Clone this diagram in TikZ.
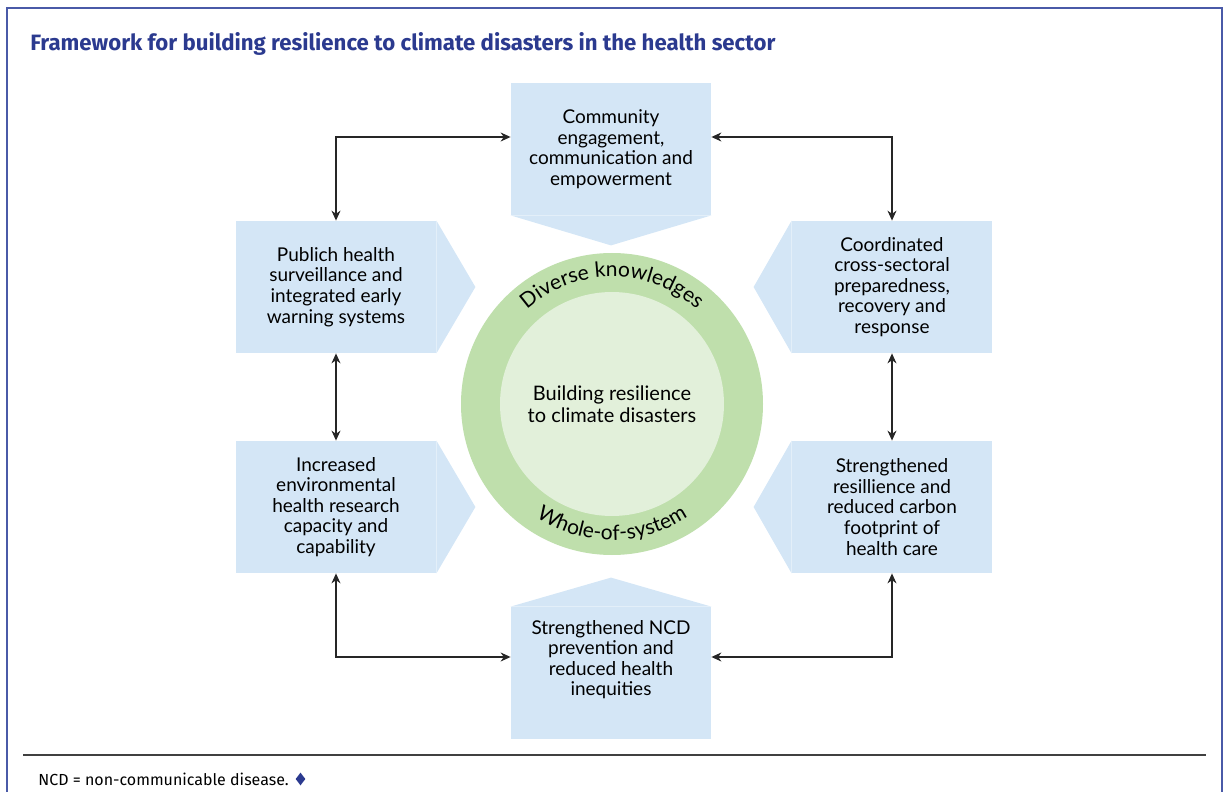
\documentclass[tikz,border=0pt]{standalone}
\usepackage{fontspec}
\setmainfont{Lato}
\newfontfamily\titlefont{Fira Sans}
\usetikzlibrary{arrows.meta,calc,positioning,shapes.geometric,decorations.text}

\definecolor{boxblue}{HTML}{D4E6F6}
\definecolor{ringgreen}{HTML}{BFDFAC}
\definecolor{coregreen}{HTML}{E2F0DA}
\definecolor{titleblue}{HTML}{2B3A8F}
\definecolor{frameblue}{HTML}{4A5AA8}

\tikzset{
    box/.style={fill=boxblue, minimum width=100pt, minimum height=66pt, inner sep=0pt,
        align=center, font=\fontsize{9.5}{10.3}\selectfont},
    link/.style={{Stealth[length=5pt,width=4.5pt]}-{Stealth[length=5pt,width=4.5pt]},
        line width=0.6pt, black!85},
    arctext/.style={decorate, decoration={text along path, text align=center,
        text={|\fontsize{10.5}{12}\selectfont|#1}}}
}

\begin{document}
\begin{tikzpicture}[x=0.5pt, y=-0.5pt]
    \useasboundingbox (0,0) rectangle (1228,792);
    \draw[frameblue, line width=0.7pt] (7,800) -- (7,8) -- (1222,8) -- (1222,800);

    \node[anchor=west, inner sep=0pt, text=titleblue, font=\titlefont\bfseries\fontsize{11.1}{13}\selectfont]
        (title) at (30,44) {Framework for building resilience to climate disasters in the health sector};

    \node[box] (top) at (611,149) {Community\\engagement,\\communication and\\empowerment};
    \node[box] (lt) at (336,287) {Publich health\\surveillance and\\integrated early\\warning systems};
    \node[box] (rt) at (892,287) {Coordinated\\cross-sectoral\\preparedness,\\recovery and\\response};
    \node[box] (lb) at (336,507) {Increased\\environmental\\health research\\capacity and\\capability};
    \node[box] (rb) at (892,507) {Strengthened\\resillience and\\reduced carbon\\footprint of\\health care};
    \node[box] (bot) at (611,673) {Strengthened NCD\\prevention and\\reduced health\\inequities\\[0.5em]};

    \fill[boxblue] (top.south west) -- ($(top.south)+(0,-15pt)$) -- (top.south east) -- cycle;
    \fill[boxblue] (lt.north east) -- ($(lt.east)+(19.5pt,0)$) -- (lt.south east) -- cycle;
    \fill[boxblue] (lb.north east) -- ($(lb.east)+(19.5pt,0)$) -- (lb.south east) -- cycle;
    \fill[boxblue] (rt.north west) -- ($(rt.west)+(-19pt,0)$) -- (rt.south west) -- cycle;
    \fill[boxblue] (rb.north west) -- ($(rb.west)+(-19pt,0)$) -- (rb.south west) -- cycle;
    \fill[boxblue] (bot.north west) -- ($(bot.north)+(0,14.5pt)$) -- (bot.north east) -- cycle;

    \node[circle, fill=ringgreen, minimum size=151pt] (hub) at (612,404) {};
    \node[circle, fill=coregreen, minimum size=112pt, align=center,
        font=\fontsize{10}{10.8}\selectfont] (core) at (hub) {Building resilience\\to climate disasters};

    \path[arctext=Diverse knowledges] ([shift={(150:63.5pt)}]hub.center) arc[start angle=150, end angle=30, radius=63.5pt];
    \path[arctext=Whole-of-system] ([shift={(210:68pt)}]hub.center) arc[start angle=210, end angle=330, radius=68pt];

    \draw[link] (lt.north) |- ([yshift=6pt]top.west);
    \draw[link] (rt.north) |- ([yshift=6pt]top.east);
    \draw[link] (lt.south) -- (lb.north);
    \draw[link] (rt.south) -- (rb.north);
    \draw[link] (lb.south) |- ([yshift=8pt]bot.west);
    \draw[link] (rb.south) |- ([yshift=8pt]bot.east);

    \coordinate (ruleL) at (23,755);
    \coordinate (ruleR) at (1206,755);
    \draw[black!75, line width=1pt] (ruleL) -- (ruleR);
    \node[anchor=west, inner sep=0pt, font=\titlefont\fontsize{8}{9}\selectfont] (note) at (38,779) {NCD = non-communicable disease.};
    \node[diamond, fill=titleblue, inner sep=0pt, minimum width=5pt, minimum height=6.5pt,
        right=3pt of note] (mark) {};
\end{tikzpicture}
\end{document}
